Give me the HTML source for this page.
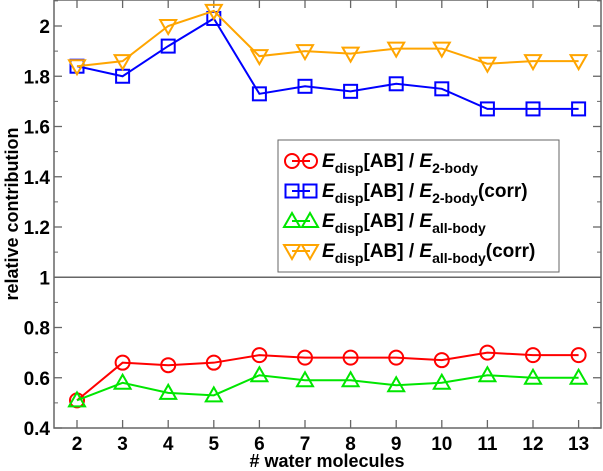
<!DOCTYPE html>
<html><head><meta charset="utf-8"><style>
body{margin:0;background:#fff}
svg{display:block;font-family:"Liberation Sans",Arial,sans-serif;font-weight:bold}
</style></head><body>
<svg id="chart" width="603" height="471" viewBox="0 0 603 471" xmlns="http://www.w3.org/2000/svg">
<g id="axes"></g><g id="series"></g>
<g>
<rect x="278" y="140" width="281" height="132" fill="#fff" stroke="#666" stroke-width="1"/>
<g id="legend-marks"></g>
<g font-size="19">
<text x="322" y="167"><tspan font-style="italic">E</tspan><tspan font-size="14" dy="6">disp</tspan><tspan dy="-6">[AB] / </tspan><tspan font-style="italic">E</tspan><tspan font-size="14" dy="6">2-body</tspan></text>
<text x="322" y="197"><tspan font-style="italic">E</tspan><tspan font-size="14" dy="6">disp</tspan><tspan dy="-6">[AB] / </tspan><tspan font-style="italic">E</tspan><tspan font-size="14" dy="6">2-body</tspan><tspan dy="-6">(corr)</tspan></text>
<text x="322" y="227"><tspan font-style="italic">E</tspan><tspan font-size="14" dy="6">disp</tspan><tspan dy="-6">[AB] / </tspan><tspan font-style="italic">E</tspan><tspan font-size="14" dy="6">all-body</tspan></text>
<text x="322" y="257"><tspan font-style="italic">E</tspan><tspan font-size="14" dy="6">disp</tspan><tspan dy="-6">[AB] / </tspan><tspan font-style="italic">E</tspan><tspan font-size="14" dy="6">all-body</tspan><tspan dy="-6">(corr)</tspan></text>
</g></g>
<text x="327" y="467" text-anchor="middle" font-size="18"># water molecules</text>
<text transform="translate(18,214) rotate(-90)" text-anchor="middle" font-size="18">relative contribution</text>
</svg>
<script>
const categories=[2,3,4,5,6,7,8,9,10,11,12,13];
const red2body=[0.51,0.66,0.65,0.66,0.69,0.68,0.68,0.68,0.67,0.70,0.69,0.69];
const blue2bodyCorr=[1.84,1.80,1.92,2.03,1.73,1.76,1.74,1.77,1.75,1.67,1.67,1.67];
const greenAllBody=[0.51,0.58,0.54,0.53,0.61,0.59,0.59,0.57,0.58,0.61,0.60,0.60];
const orangeAllBodyCorr=[1.84,1.86,2.00,2.06,1.88,1.90,1.89,1.91,1.91,1.85,1.86,1.86];
const yTicks=[0.4,0.6,0.8,1,1.2,1.4,1.6,1.8,2];
const yTickLabels=["0.4","0.6","0.8","1","1.2","1.4","1.6","1.8","2"];

const NS="http://www.w3.org/2000/svg";
const L=54,R=601,T=0,B=428;
const X=v=>77+(v-2)*45.6;
const Y=v=>428-(v-0.4)*251.25;
function mk(tag,attrs,parent){const e=document.createElementNS(NS,tag);for(const k in attrs)e.setAttribute(k,attrs[k]);parent.appendChild(e);return e;}
const ax=document.getElementById('axes');
const frame=mk('rect',{x:L,y:T,width:R-L,height:B-T,fill:'none',stroke:'#666','stroke-width':1.5},ax);


const ref=mk('line',{x1:L,x2:R,y1:Y(1),y2:Y(1),stroke:'#666','stroke-width':1.5},ax);


for(let v=0.5;v<2.1;v+=0.2){const y=Y(v);mk('line',{x1:L,x2:L+4,y1:y,y2:y,stroke:'#666'},ax);mk('line',{x1:R,x2:R-4,y1:y,y2:y,stroke:'#666'},ax);}
yTicks.forEach((v,i)=>{const y=Y(v);mk('line',{x1:L,x2:L+8,y1:y,y2:y,stroke:'#666','stroke-width':1.3},ax);mk('line',{x1:R,x2:R-8,y1:y,y2:y,stroke:'#666','stroke-width':1.3},ax);
const t=mk('text',{x:L-4,y:y+7,'text-anchor':'end','font-size':19},ax);t.textContent=yTickLabels[i];

});
categories.forEach(c=>{const x=X(c);mk('line',{x1:x,x2:x,y1:B,y2:B-8,stroke:'#666','stroke-width':1.3},ax);mk('line',{x1:x,x2:x,y1:T,y2:T+8,stroke:'#666','stroke-width':1.3},ax);
const t=mk('text',{x:x,y:450,'text-anchor':'middle','font-size':19},ax);t.textContent=c;

});
function marker(type,x,y,color,g){
 if(type==='circle')return mk('circle',{cx:x,cy:y,r:7,fill:'none',stroke:color,'stroke-width':2},g);
 if(type==='square')return mk('rect',{x:x-6.5,y:y-6.5,width:13,height:13,fill:'none',stroke:color,'stroke-width':2},g);
 if(type==='up')return mk('polygon',{points:`${x},${y-8} ${x-8},${y+6} ${x+8},${y+6}`,fill:'none',stroke:color,'stroke-width':2},g);
 return mk('polygon',{points:`${x},${y+8} ${x-8},${y-6} ${x+8},${y-6}`,fill:'none',stroke:color,'stroke-width':2},g);
}
const S=[['series-2body',red2body,'#ff0000','circle'],['series-2body-corr',blue2bodyCorr,'#0000ff','square'],['series-allbody',greenAllBody,'#00e600','up'],['series-allbody-corr',orangeAllBodyCorr,'#ffa500','down']];
const sg=document.getElementById('series');
S.forEach(([name,vals,color,type])=>{
 const g=mk('g',{},sg);
 
 
 mk('polyline',{points:vals.map((v,i)=>X(categories[i])+','+Y(v)).join(' '),fill:'none',stroke:color,'stroke-width':2},g);
 vals.forEach((v,i)=>{const m=marker(type,X(categories[i]),Y(v),color,g);
 
 });
});
const lm=document.getElementById('legend-marks');
S.forEach(([name,vals,color,type],i)=>{
 const y=161+i*30;
 const g=mk('g',{},lm);
 
 
 mk('line',{x1:292,x2:310,y1:y,y2:y,stroke:color,'stroke-width':2},g);
 marker(type,292,y,color,g);marker(type,310,y,color,g);
});
</script>
</body></html>
